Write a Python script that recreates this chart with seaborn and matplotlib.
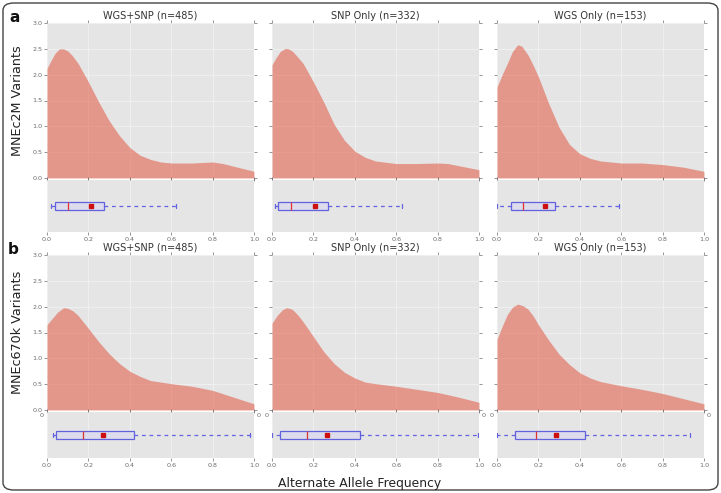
import numpy as np
import matplotlib
matplotlib.use("Agg")
import matplotlib.pyplot as plt
import seaborn as sns
from matplotlib.patches import FancyBboxPatch

# ---- data ------------------------------------------------------------------
titles = ["WGS+SNP (n=485)", "SNP Only (n=332)", "WGS Only (n=153)"]
row_labels = ["MNEc2M Variants", "MNEc670k Variants"]
panel_letters = ["a", "b"]

# density curves (allele frequency grid, density)
x_a1 = [0, 0.02, 0.04, 0.06, 0.08, 0.1, 0.12, 0.15, 0.2, 0.25, 0.3, 0.35, 0.4, 0.45, 0.5, 0.55, 0.6, 0.7, 0.8, 0.85, 0.9, 0.95, 1.0]
y_a1 = [2.12, 2.28, 2.42, 2.50, 2.50, 2.46, 2.38, 2.22, 1.86, 1.47, 1.11, 0.82, 0.59, 0.44, 0.36, 0.31, 0.29, 0.29, 0.31, 0.28, 0.23, 0.18, 0.13]

x_a2 = [0, 0.02, 0.04, 0.065, 0.08, 0.1, 0.12, 0.15, 0.2, 0.25, 0.3, 0.35, 0.4, 0.45, 0.5, 0.6, 0.7, 0.8, 0.85, 0.9, 1.0]
y_a2 = [2.19, 2.33, 2.45, 2.51, 2.50, 2.45, 2.36, 2.22, 1.86, 1.47, 1.04, 0.73, 0.52, 0.40, 0.33, 0.28, 0.28, 0.29, 0.28, 0.24, 0.16]

x_a3 = [0, 0.025, 0.05, 0.075, 0.1, 0.12, 0.15, 0.175, 0.2, 0.25, 0.3, 0.35, 0.4, 0.45, 0.5, 0.6, 0.7, 0.8, 0.9, 1.0]
y_a3 = [1.76, 2.00, 2.22, 2.45, 2.58, 2.55, 2.38, 2.18, 1.96, 1.44, 0.98, 0.65, 0.47, 0.38, 0.33, 0.29, 0.29, 0.26, 0.21, 0.13]

x_b1 = [0, 0.025, 0.05, 0.08, 0.1, 0.125, 0.15, 0.2, 0.25, 0.3, 0.35, 0.4, 0.45, 0.5, 0.6, 0.7, 0.8, 0.9, 1.0]
y_b1 = [1.65, 1.77, 1.89, 1.98, 1.97, 1.92, 1.83, 1.58, 1.32, 1.09, 0.90, 0.75, 0.65, 0.57, 0.51, 0.46, 0.38, 0.25, 0.12]

x_b2 = [0, 0.025, 0.05, 0.07, 0.09, 0.1, 0.125, 0.15, 0.2, 0.25, 0.3, 0.35, 0.4, 0.45, 0.5, 0.6, 0.7, 0.8, 0.9, 1.0]
y_b2 = [1.68, 1.83, 1.94, 1.98, 1.96, 1.94, 1.84, 1.71, 1.42, 1.13, 0.90, 0.73, 0.62, 0.54, 0.51, 0.46, 0.40, 0.34, 0.25, 0.15]

x_b3 = [0, 0.025, 0.05, 0.075, 0.1, 0.125, 0.15, 0.175, 0.2, 0.25, 0.3, 0.35, 0.4, 0.45, 0.5, 0.6, 0.7, 0.8, 0.9, 1.0]
y_b3 = [1.37, 1.62, 1.85, 1.99, 2.05, 2.02, 1.95, 1.82, 1.65, 1.35, 1.08, 0.88, 0.72, 0.62, 0.55, 0.47, 0.40, 0.32, 0.22, 0.12]

densities = [[(x_a1, y_a1), (x_a2, y_a2), (x_a3, y_a3)],
             [(x_b1, y_b1), (x_b2, y_b2), (x_b3, y_b3)]]

# box stats: whisker low, q1, median, mean, q3, whisker high
box_a = [[0.02, 0.037, 0.10, 0.213, 0.274, 0.624],
         [0.013, 0.029, 0.09, 0.21, 0.269, 0.63],
         [0.0, 0.069, 0.127, 0.232, 0.279, 0.589]]
box_b = [[0.027, 0.045, 0.174, 0.269, 0.419, 0.98],
         [0.0, 0.037, 0.169, 0.266, 0.423, 0.995],
         [0.0, 0.085, 0.189, 0.285, 0.424, 0.931]]
boxes = [box_a, box_b]

density_ticks = [0.0, 0.5, 1.0, 1.5, 2.0, 2.5, 3.0]
freq_ticks = [0.0, 0.2, 0.4, 0.6, 0.8, 1.0]

# ---- style ------------------------------------------------------------------
sns.set_theme(style="darkgrid", rc={
    "axes.facecolor": "#E5E5E5",
    "grid.color": "#F4F4F4",
    "grid.linewidth": 0.5,
    "xtick.color": "#6A6A6A",
    "ytick.color": "#6A6A6A",
    "xtick.labelsize": 4.6,
    "ytick.labelsize": 4.6,
})
plt.rcParams["font.family"] = ["DejaVu Sans"]

fill_color = "#E24A33"
box_blue = "#6262DE"

fig = plt.figure(figsize=(7.21, 4.93), dpi=100)
W, H = 721.0, 493.0

col_left = [47, 272, 497]
col_w = 207
# (top, bottom) pixel extents of density and box axes per row
dens_rows = [(23, 178), (255, 410)]
box_rows = [(180, 232), (412, 458)]
box_width = [0.14, 0.16]


def ax_at(left, top, bottom):
    return fig.add_axes([left / W, 1 - bottom / H, col_w / W, (bottom - top) / H])


def tick_style(ax):
    ax.tick_params(axis="both", which="both", direction="out", length=2, width=0.5,
                   pad=1.5, top=True, right=True, bottom=True, left=True)
    for s in ax.spines.values():
        s.set_visible(False)


for r in range(2):
    for c in range(3):
        xs, ys = densities[r][c]
        ax = ax_at(col_left[c], *dens_rows[r])
        ax.fill_between(xs, 0, ys, color=fill_color, alpha=0.5, linewidth=0)
        ax.set_xlim(0, 1)
        ax.set_ylim(0, 3)
        ax.set_xticks(freq_ticks)
        ax.set_yticks(density_ticks)
        ax.set_xticklabels([])
        if c == 0:
            ax.set_yticklabels([f"{t:.1f}" for t in density_ticks])
        else:
            ax.set_yticklabels([])
        tick_style(ax)
        ax.set_title(titles[c], fontsize=7, color="#333333", pad=3)
        ax.set_axisbelow(True)

        wl, q1, med, mean, q3, wh = boxes[r][c]
        bax = ax_at(col_left[c], *box_rows[r])
        stats = [dict(whislo=wl, q1=q1, med=med, mean=mean, q3=q3, whishi=wh, fliers=[])]
        bax.bxp(stats, positions=[1], widths=box_width[r], orientation="horizontal",
                showmeans=True, patch_artist=True, showfliers=False,
                capwidths=box_width[r] * 0.5,
                boxprops=dict(facecolor="#DCDCEC", edgecolor=box_blue, linewidth=0.9),
                whiskerprops=dict(color=box_blue, linestyle=(0, (3, 3)), linewidth=0.9),
                capprops=dict(color=box_blue, linewidth=0.9),
                medianprops=dict(color="#E03030", linewidth=0.9),
                meanprops=dict(marker="s", markerfacecolor="#CC1010",
                               markeredgecolor="#CC1010", markersize=3.5))
        bax.set_xlim(0, 1)
        bax.set_ylim(0.5, 1.5)
        bax.set_xticks(freq_ticks)
        bax.set_xticklabels([f"{t:.1f}" for t in freq_ticks])
        bax.set_yticks([])
        bax.grid(axis="y", visible=False)
        tick_style(bax)
        bax.tick_params(axis="y", left=False, right=False)
        bax.set_axisbelow(True)
        if r == 1:
            bax.text(-0.015, 0.97, "0", transform=bax.transAxes, ha="right", va="top",
                     fontsize=4.6, color="#6A6A6A")
            bax.text(1.015, 0.97, "0", transform=bax.transAxes, ha="left", va="top",
                     fontsize=4.6, color="#6A6A6A")

    # row label and panel letter
    top, bottom = dens_rows[r]
    fig.text(18 / W, 1 - (top + bottom) / 2 / H, row_labels[r], rotation=90,
             ha="center", va="center", fontsize=9.2, color="#222222")

fig.text(15 / W, 1 - 18 / H, panel_letters[0], ha="center", va="center",
         fontsize=11, fontweight="bold", color="#111111")
fig.text(13 / W, 1 - 250 / H, panel_letters[1], ha="center", va="center",
         fontsize=11, fontweight="bold", color="#111111")

fig.text(360 / W, 1 - 483 / H, "Alternate Allele Frequency", ha="center", va="center",
         fontsize=8.9, color="#222222")

# rounded frame around the whole figure
frame = FancyBboxPatch((3 / W, 3 / H), 1 - 6 / W, 1 - 6 / H,
                       boxstyle="round,pad=0,rounding_size=0.015",
                       transform=fig.transFigure, fill=False,
                       edgecolor="#444444", linewidth=1.0)
fig.patches.append(frame)

fig.savefig("out.png", dpi=100)
